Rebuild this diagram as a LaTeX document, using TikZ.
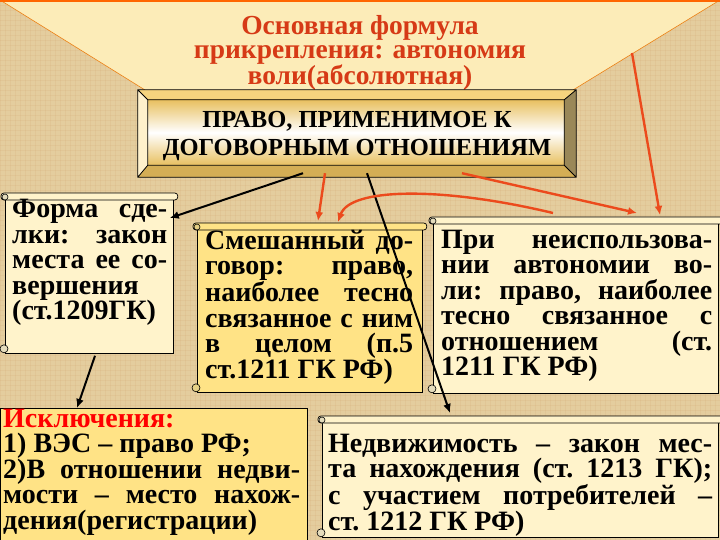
\documentclass[tikz,border=0pt]{standalone}
\usepackage{fontspec}
\setmainfont{Liberation Serif}
\usetikzlibrary{arrows.meta,calc,positioning}

\definecolor{parch}{HTML}{E4CD9E}
\definecolor{parchlight}{HTML}{FCECB8}
\definecolor{titlered}{HTML}{D63A16}
\definecolor{arrowred}{HTML}{EC4A1C}
\definecolor{cream}{HTML}{FFF3CB}
\definecolor{gold}{HTML}{FFE386}
\definecolor{lawgold}{HTML}{E8C060}
\definecolor{bevtop}{HTML}{F6D47E}
\definecolor{bevleft}{HTML}{FFF1CC}
\definecolor{bevright}{HTML}{9A8858}
\definecolor{bevbottom}{HTML}{D4AE55}

\exhyphenpenalty=10000
\hyphenpenalty=10000

\begin{document}
\begin{tikzpicture}[x=1pt, y=-1pt, font=\bfseries,
  scroll/.style={draw=black, line width=.8pt, anchor=north west, inner sep=0pt},
  body/.style={font={\fontsize{28}{25.5}\selectfont\bfseries}, align=justify, anchor=base west, inner sep=0pt},
  redarrow/.style={draw=arrowred, line width=2.4pt, -{Latex[length=9pt,width=8pt]}},
  blackarrow/.style={draw=black, line width=2pt, -{Latex[length=9pt,width=8pt]}}]
	\useasboundingbox (0,0) rectangle (720,540);
	% background
	\fill[parch] (0,0) rectangle (720,540);
	\foreach \x in {0,5,...,720} \draw[brown, opacity=.08, line width=.6pt] (\x,0) -- (\x,540);
	\foreach \y in {0,5,...,540} \draw[brown, opacity=.08, line width=.6pt] (0,\y) -- (720,\y);
	\fill[parchlight] (0,0) -- (720,0) -- (573,90) -- (145,90) -- cycle;
	\draw[orange!70!brown, line width=.6pt] (0,0) -- (145,90) (720,0) -- (573,90);
	\draw[orange!80!red, line width=2pt] (0,1) -- (720,1);
	% title
	\node[font=\fontsize{27.5}{23.5}\selectfont\bfseries, text=titlered, align=center, anchor=base] (title) at (360,85) {Основная формула\\прикрепления: автономия\\воли(абсолютная)};
	% main frame
	\node[minimum width=438pt, minimum height=87pt, inner sep=0pt] (law) at (357,133.5) {};
	\fill[bevtop] (law.north west) -- (law.north east) -- ($(law.north east)+(-12,10)$) -- ($(law.north west)+(10,10)$) -- cycle;
	\fill[bevright] (law.north east) -- (law.south east) -- ($(law.south east)+(-12,-12)$) -- ($(law.north east)+(-12,10)$) -- cycle;
	\fill[bevbottom] (law.south east) -- (law.south west) -- ($(law.south west)+(10,-12)$) -- ($(law.south east)+(-12,-12)$) -- cycle;
	\fill[bevleft] (law.south west) -- (law.north west) -- ($(law.north west)+(10,10)$) -- ($(law.south west)+(10,-12)$) -- cycle;
	\shade[top color=lawgold, bottom color=lawgold, middle color=white] ($(law.north west)+(10,10)$) rectangle ($(law.south east)+(-12,-12)$);
	\draw[line width=.8pt] (law.north west) rectangle (law.south east)
	  ($(law.north west)+(10,10)$) rectangle ($(law.south east)+(-12,-12)$)
	  (law.north west) -- ++(10,10) (law.north east) -- ++(-12,10)
	  (law.south west) -- ++(10,-12) (law.south east) -- ++(-12,-12);
	\node[font=\fontsize{24.5}{28}\selectfont\bfseries, align=center, anchor=base] (lawtxt) at ($(law.north)+(0,66)$) {ПРАВО, ПРИМЕНИМОЕ К\\ДОГОВОРНЫМ ОТНОШЕНИЯМ};
	% boxes
	\node[scroll, fill=cream, minimum width=168pt, minimum height=160pt] (form) at (5,193) {};
	\node[scroll, fill=gold, minimum width=225pt, minimum height=169pt] (mixed) at (197,223) {};
	\node[scroll, fill=cream, minimum width=285pt, minimum height=176pt] (nouse) at (433,217) {};
	\node[scroll, fill=gold, minimum width=307pt, minimum height=133pt] (except) at (0,408) {};
	\node[scroll, fill=cream, minimum width=396pt, minimum height=121pt] (realty) at (322,416) {};
	% scroll rolls
	\foreach \b/\c in {form/cream, mixed/gold, nouse/cream, realty/cream} {
	  \draw[fill=\c, line width=.7pt, rounded corners=3pt] ($(\b.north west)+(-4,0)$) rectangle ($(\b.north east)+(4,7)$);
	  \draw[fill=\c!80!gray, line width=.6pt] ($(\b.north west)+(0,4)$) circle (3pt);
	  \draw[fill=\c!80!gray, line width=.6pt] ($(\b.south west)+(-1,-5)$) circle (4pt);
	}
	% texts
	\node[body, text width=155pt] (formtxt) at ($(form.north west)+(7,25)$) {Форма~сде-\linebreak лки:~закон\linebreak места~ее~со-\linebreak вершения\linebreak (ст.1209ГК)};
	\node[body, text width=208pt] (mixedtxt) at ($(mixed.north west)+(8,26)$) {Смешанный~до-\linebreak говор:~право,\linebreak наиболее~тесно\linebreak связанное~с~ним\linebreak в~целом~(п.5\linebreak ст.1211~ГК~РФ)};
	\node[body, text width=271pt] (nousetxt) at ($(nouse.north west)+(8,31)$) {При~неиспользова-\linebreak нии~автономии~во-\linebreak ли:~право,~наиболее\linebreak тесно~связанное~с\linebreak отношением~(ст.\linebreak 1211~ГК~РФ)};
	\node[body, text width=297pt] (excepttxt) at ($(except.north west)+(3,19)$) {\textcolor{red}{Исключения:}\\1)~ВЭС~–~право~РФ;\\2)В~отношении~недви-\linebreak мости~–~место~нахож-\linebreak дения(регистрации)};
	\node[body, text width=384pt] (realtytxt) at ($(realty.north west)+(6,36)$) {Недвижимость~–~закон~мес-\linebreak та~нахождения~(ст.~1213~ГК);\linebreak с~участием~потребителей~–\linebreak ст.~1212~ГК~РФ)};
	% connectors
	\coordinate (corner) at (632,53);
	\draw[blackarrow] ($(law.south)+(-54,-4)$) -- ($(form.north east)+(-4,25)$);
	\draw[blackarrow] ($(form.south west)+(90,2)$) -- ($(except.north west)+(77,0)$);
	\draw[blackarrow] ($(law.south)+(10,-4)$) -- ($(realty.north west)+(128,-3)$);
	\draw[redarrow] ($(law.south)+(-32,-4)$) -- ($(mixed.north west)+(121,-2)$);
	\draw[redarrow] ($(nouse.north west)+(120,-4)$) .. controls (440,186) and (350,188) .. ($(mixed.north west)+(141,-1)$);
	\draw[redarrow] ($(law.south)+(105,-4)$) -- ($(nouse.north west)+(204,-4)$);
	\draw[redarrow] (corner) -- ($(nouse.north west)+(227,-2)$);
\end{tikzpicture}
\end{document}
